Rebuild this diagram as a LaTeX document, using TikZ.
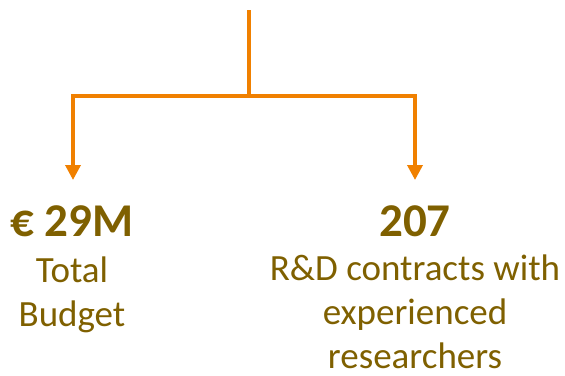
\documentclass[tikz,border=0pt]{standalone}
\usepackage{fontspec}
\setmainfont{Carlito}
\usetikzlibrary{arrows.meta}
\definecolor{org}{RGB}{240,128,0}
\definecolor{gold}{RGB}{127,96,0}
\begin{document}
\begin{tikzpicture}[x=1pt,y=-1pt,
  conn/.style={draw=org,line width=3.5pt,line join=miter},
  arr/.style={conn,-{Triangle[width=15pt,length=15pt]}},
  num/.style={text=gold,font=\bfseries\fontsize{47}{47}\selectfont,anchor=base,inner sep=0pt},
  lbl/.style={text=gold,font=\fontsize{37}{44}\selectfont,anchor=base,align=center,inner sep=0pt}]
\useasboundingbox (0,0) rectangle (565,375);
\coordinate (top) at (249,10);
\coordinate (j) at (249,96);
\coordinate (la) at (73,180);
\coordinate (ra) at (415,180);
\draw[conn] (top) -- (j);
\draw[arr] (j) -| (la);
\draw[arr] (j) -| (ra);
\node[num] (n1) at (72,236) {€ 29M};
\node[lbl] (t1) at (72,326) {Total\\Budget};
\node[num] (n2) at (415,236) {207};
\node[lbl] (t2) at (415,368) {R\&D contracts with\\experienced\\researchers};
\end{tikzpicture}
\end{document}
